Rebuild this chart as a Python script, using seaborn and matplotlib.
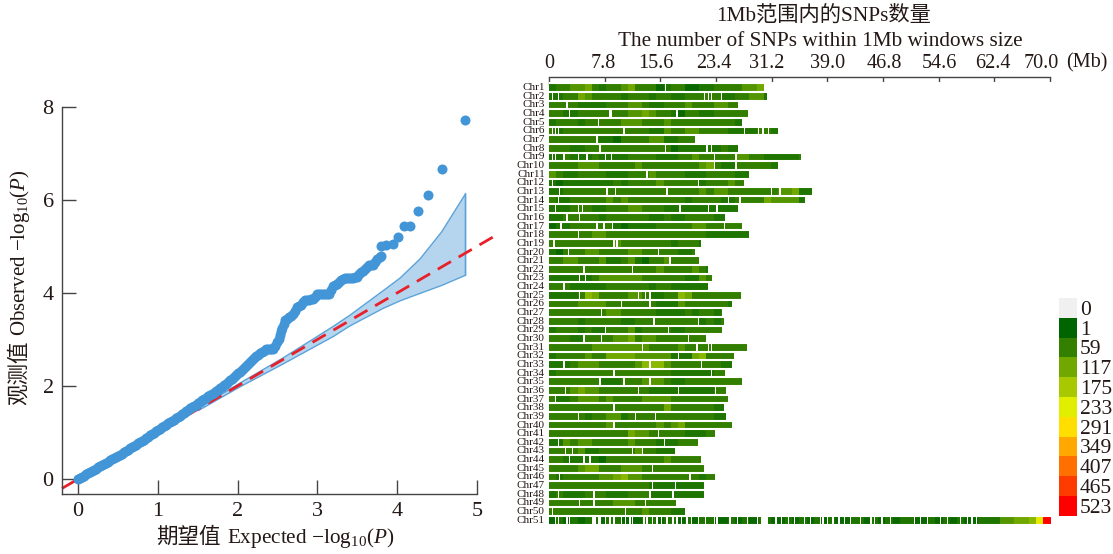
import numpy as np
import pandas as pd
import matplotlib
matplotlib.use("Agg")
import matplotlib.pyplot as plt
from matplotlib.colors import LinearSegmentedColormap, ListedColormap
from matplotlib.transforms import ScaledTranslation
import seaborn as sns

sns.set_style("white")
plt.rcParams['font.family'] = ['Liberation Serif', 'Noto Sans CJK SC']
plt.rcParams['mathtext.fontset'] = 'custom'
plt.rcParams['mathtext.rm'] = 'Liberation Serif'
plt.rcParams['mathtext.it'] = 'Liberation Serif:italic'
plt.rcParams['mathtext.default'] = 'rm'

# ---------- QQ data ----------
expected = [0, .025, .05, .075, .1, .125, .15, .175, .2, .225, .25, .275, .3, .325, .35, .375, .4, .425, .45, .475,
            .5, .525, .55, .575, .6, .625, .65, .675, .7, .725, .75, .775, .8, .825, .85, .875, .9, .925, .95, .975,
            1, 1.025, 1.05, 1.075, 1.1, 1.125, 1.15, 1.175, 1.2, 1.225, 1.25, 1.275, 1.3, 1.325, 1.35, 1.375,
            1.4, 1.425, 1.45, 1.475, 1.5, 1.525, 1.55, 1.575, 1.6, 1.625, 1.65, 1.675, 1.7, 1.725, 1.75, 1.775,
            1.8, 1.825, 1.85, 1.875, 1.9, 1.925, 1.95, 1.975, 2, 2.025, 2.05, 2.075, 2.1, 2.125, 2.15, 2.175,
            2.2, 2.225, 2.25, 2.275, 2.3, 2.325, 2.35, 2.375, 2.4, 2.425, 2.45, 2.475, 2.5, 2.515, 2.53, 2.545,
            2.56, 2.58, 2.6, 2.625, 2.65, 2.675, 2.7, 2.725, 2.75, 2.775, 2.8, 2.825, 2.85, 2.875, 2.9, 2.925,
            2.95, 2.975, 3, 3.025, 3.05, 3.075, 3.1, 3.125, 3.15, 3.175, 3.2, 3.225, 3.25, 3.275, 3.3, 3.325,
            3.35, 3.375, 3.4, 3.425, 3.45, 3.475, 3.5, 3.525, 3.55, 3.575, 3.6, 3.625, 3.65, 3.675, 3.7, 3.725,
            3.75, 3.78, 3.8, 3.8, 3.86, 3.95, 4.01, 4.08, 4.16, 4.26, 4.38, 4.56, 4.85]
observed = [0, .025, .05, .075, .1, .125, .15, .175, .2, .225, .25, .275, .3, .325, .35, .375, .4, .425, .45, .475,
            .5, .525, .55, .58, .6, .63, .66, .685, .71, .74, .77, .795, .82, .85, .88, .91, .94, .97, 1.0, 1.03,
            1.06, 1.085, 1.11, 1.14, 1.17, 1.195, 1.22, 1.25, 1.28, 1.305, 1.33, 1.36, 1.39, 1.425, 1.46, 1.49,
            1.52, 1.545, 1.57, 1.6, 1.63, 1.66, 1.69, 1.72, 1.75, 1.78, 1.81, 1.835, 1.86, 1.89, 1.92, 1.95,
            1.98, 2.015, 2.05, 2.085, 2.12, 2.155, 2.19, 2.23, 2.27, 2.31, 2.35, 2.39, 2.43, 2.475, 2.52, 2.56,
            2.6, 2.635, 2.67, 2.7, 2.73, 2.76, 2.79, 2.8, 2.8, 2.8, 2.8, 2.87, 2.95, 3.02, 3.1, 3.18,
            3.25, 3.34, 3.42, 3.45, 3.48, 3.51, 3.55, 3.62, 3.7, 3.72, 3.75, 3.8, 3.85, 3.85, 3.85, 3.86,
            3.87, 3.92, 3.97, 3.97, 3.97, 3.97, 3.97, 3.97, 3.98, 4.06, 4.15, 4.17, 4.2, 4.23, 4.27, 4.3,
            4.33, 4.33, 4.33, 4.33, 4.33, 4.34, 4.35, 4.4, 4.45, 4.48, 4.52, 4.56, 4.6, 4.6, 4.6, 4.66,
            4.72, 4.77, 4.8, 5.0, 5.02, 5.05, 5.21, 5.44, 5.44, 5.75, 6.11, 6.66, 7.71]
band_x = [1.5, 2.0, 2.57, 3.2, 3.4, 3.82, 4.03, 4.28, 4.55, 4.85]
band_upper = [1.53, 2.05, 2.62, 3.3, 3.53, 4.06, 4.33, 4.74, 5.32, 6.14]
band_lower = [1.48, 1.97, 2.49, 3.08, 3.3, 3.68, 3.84, 4.0, 4.17, 4.39]
ref_line = [-0.2, 5.22]

# ---------- density data: one digit per Mb, colour level ----------
chr_names = [f"Chr{i}" for i in range(1, 52)]
chr_ends_mb = [30.0, 30.4, 26.5, 27.8, 27.0, 32.1, 20.5, 26.4, 35.2, 32.1, 28.0, 27.2, 36.9, 35.9, 26.3,
               24.6, 27.0, 28.0, 21.2, 20.5, 21.0, 22.2, 22.8, 22.2, 26.7, 25.7, 24.2, 24.5, 24.2, 22.0,
               27.7, 25.9, 25.6, 24.6, 27.0, 24.8, 25.0, 24.5, 24.8, 25.5, 23.3, 20.8, 17.5, 21.2, 21.6,
               23.3, 21.5, 21.6, 17.9, 19.0, 70.2]
chr_levels = [
    "2334453233453331233112233334455", "2233543333233323322333332233442", "3333222233344322333433344332",
    "33223333333445433213322333333", "2333233333444333433333333322", "3233333333333322433443333222233222",
    "3333333221333344223333222", "3332233333333333312222223222", "2232223222233332223343333344332222233",
    "3333444333334333333334532233333222", "43223333222333433332223333222", "2122222223233334333332333433333",
    "22333333333333333333343443333333445222", "3223333343433333333233332233335444422", "222333223334433322222222222",
    "2233333233333322322333322", "1223333332122223333344333", "33333344333333333333332222222",
    "3333333334333333323332", "2133344333344333332233", "3344333422342133433333433",
    "33333333333333343333432222", "2222223444444333333224333", "3332222233333323322222222",
    "2222365333344322336533333333", "333344443333333222433333322", "3333333344333332222323323",
    "3333233333223333333332323", "2333232233342333322333333", "33322333344534433333332",
    "3333334444444433334333333333", "2333343355554444422256333333", "2223444333334666433333332222",
    "23333333333333333222222333", "3333333222333444322333333333", "3334544333333322222222233",
    "3223444343333444433333333", "3333333333333333533333322", "3333323344233333333333322",
    "33333333433333343453333333", "3333333333354433333222333", "2243443333343332223333",
    "333342233333433222333", "3322222133333333433333", "3333455333444333333333",
    "323333344564433333333233", "33333333333333222222222222", "2322233322233322222222222",
    "33333333344433333", "33333333333334333222",
    "121212212211122122121221121212211212121211221212122112121211" "2224455689",
]
chr_gaps = [
    [16.2], [0.5, 1.1, 21.7, 22.2, 22.7, 24.0], [2.5], [2.8, 8.4, 8.6, 17.8], [6.9],
    [0.4, 0.8, 1.3, 10.5, 27.3, 29.2, 29.9, 30.6], [6.6], [7.0, 16.2, 22.0, 22.6], [0.4, 0.9, 2.0, 3.9, 5.3, 7.8, 8.7, 23.0, 26.0],
    [23.0, 26.0], [13.6], [0.5, 20.8], [1.4, 8.0, 9.3, 16.4, 31.0, 32.2], [1.3, 25.0, 26.6],
    [0.8, 4.1, 4.6, 18.2, 22.2, 23.4], [2.5, 4.3], [1.6, 6.6, 7.5, 8.8, 24.3], [3.9], [0.6, 9.0, 9.4],
    [2.6, 15.3], [16.9], [4.8, 11.5], [4.2, 5.0], [2.1], [4.3, 12.5, 13.4, 14.1], [10.1, 13.9], [7.3],
    [14.6, 20.8], [7.8, 16.7], [4.8, 7.3, 19.4], [13.0, 20.6, 22.2, 22.7], [18.0], [2.0, 13.9, 21.3],
    [9.0, 22.7], [7.1, 10.4, 13.9], [2.2, 12.5, 18.0, 23.2], [0.8], [9.0], [4.1, 12.0, 14.8], [9.0],
    [15.3], [1.3, 16.0], [2.2, 3.3, 11.7, 13.0], [2.7, 4.8, 5.7], [14.4], [1.4, 19.7], [14.4, 17.7],
    [1.3, 6.2, 14.1, 17.3], [4.2, 6.3, 13.4], [0.4, 10.6],
    [.8, 1.2, 2.5, 2.8, 6.0, 6.2, 6.4, 6.7, 7.1, 7.8, 8.5, 9.0, 9.9, 10.6, 11.3, 11.6, 13.2, 13.6, 14.3,
     15.0, 15.7, 16.4, 17.1, 17.8, 18.5, 19.2, 19.9, 20.8, 21.8, 23.0, 23.4, 25.3, 26.2, 27.6, 29.0, 29.6,
     29.8, 30.0, 30.2, 30.4, 31.5, 32.5, 33.4, 34.3, 35.6, 36.5, 37.8, 38.2, 38.8, 39.7, 40.4, 41.1, 42.0,
     43.4, 44.8, 45.0, 45.4, 46.4, 47.7, 51.0, 51.8, 52.8, 54.6, 55.5, 57.4, 58.4, 59.0, 59.7],
]
level_counts = {1: 12, 2: 35, 3: 59, 4: 90, 5: 117, 6: 145, 7: 175, 8: 245, 9: 523}
ruler_labels = ["0", "7.8", "15.6", "23.4", "31.2", "39.0", "46.8", "54.6", "62.4", "70.0"]
ruler_label_shift_px = [0, -1, -4, -2, -5, 0, 1, 1, -1, -9]
legend_labels = ["0", "1", "59", "117", "175", "233", "291", "349", "407", "465", "523"]
legend_colors = ["#f0f0f0", "#006400", "#338000", "#70a800", "#a8c800", "#e2ee00",
                 "#ffde00", "#ffa800", "#ff7000", "#ff3c00", "#ff0000"]
legend_counts = [0, 1, 59, 117, 175, 233, 291, 349, 407, 465, 523]

# ---------- layout helpers ----------
W, H = 1113, 554
TXT = "#231815"
def box(l, t, r, b):
    return [l / W, 1 - b / H, (r - l) / W, (b - t) / H]

fig = plt.figure(figsize=(W / 100, H / 100), dpi=100, facecolor="white")

# ---------- QQ panel ----------
ax = fig.add_axes(box(62, 106.7, 477, 494))
ax.fill_between(band_x, band_lower, band_upper, facecolor="#b5d5ef", edgecolor="#5ba3d9", lw=1, zorder=1)
ax.plot([band_x[-1], band_x[-1]], [band_lower[-1], band_upper[-1]], color="#5ba3d9", lw=1, zorder=1)
ax.plot(ref_line, ref_line, color="#e8202a", lw=2, dashes=(5.5, 3.2), zorder=2, clip_on=False)
sns.scatterplot(x=expected, y=observed, ax=ax, s=52, color="#4295d6", linewidth=0, zorder=3, clip_on=False)
ax.set_xlim(-0.2, 5)
ax.set_ylim(-0.32, 8)
ax.set_xticks(range(6))
ax.set_yticks(range(0, 9, 2))
ax.tick_params(direction="in", length=10, width=1, color="#444444", labelsize=16, labelcolor=TXT, pad=6,
               left=True, bottom=True)
sns.despine(ax=ax)
for s in ("left", "bottom"):
    ax.spines[s].set_color("#444444")
    ax.spines[s].set_linewidth(1)
ax.set_xlabel(r"Expected $-\mathrm{log}_{10}(\mathit{P})$", fontsize=15.3, color=TXT)
ax.set_ylabel(r"Observed $-\mathrm{log}_{10}(\mathit{P})$", fontsize=15, color=TXT)
ax.xaxis.set_label_coords(311 / W, 1 - 538 / H, transform=fig.transFigure)
ax.yaxis.set_label_coords(20 / W, 1 - 253 / H, transform=fig.transFigure)
ax.xaxis.label.set_verticalalignment("center")
ax.yaxis.label.set_verticalalignment("center")
fig.text(188 / W, 1 - 538 / H, "期望值", ha="center", va="center", fontsize=15.5, color=TXT)
fig.text(20 / W, 1 - 373 / H, "观测值", ha="center", va="center", rotation=90, fontsize=15.5, color=TXT)

# ---------- density panel ----------
STEP = 0.2
n_cols = int(round(70.4 / STEP))
grid = np.full((len(chr_names), n_cols), np.nan)
for r, (levels, end, gaps) in enumerate(zip(chr_levels, chr_ends_mb, chr_gaps)):
    for c in range(min(int(round(end / STEP)), n_cols)):
        mb = int(c * STEP)
        grid[r, c] = level_counts[int(levels[min(mb, len(levels) - 1)])]
    for g in gaps:
        grid[r, int(round(g / STEP))] = np.nan

cmap = LinearSegmentedColormap.from_list(
    "snp", [(0.0, legend_colors[1])] + [(c / 523, col) for c, col in zip(legend_counts[2:], legend_colors[2:])])
cmap.set_bad("white")

axh = fig.add_axes(box(549, 77.3, 549 + 70.4 * 7.157, 524.5))
df = pd.DataFrame(grid, index=chr_names)
sns.heatmap(df, ax=axh, cmap=cmap, vmin=0, vmax=523, cbar=False, linewidths=0, rasterized=True,
            xticklabels=False, yticklabels=True)
axh.set_ylim(len(chr_names), -0.7)
axh.hlines(np.arange(0, len(chr_names) + 1), 0, n_cols, color="white", lw=1.5, zorder=5)
axh.xaxis.tick_top()
tick_pos = np.linspace(0, 70 / STEP, len(ruler_labels))
axh.set_xticks(tick_pos)
axh.set_xticklabels(ruler_labels, fontsize=14.5, color=TXT, rotation=0)
axh.tick_params(axis="x", direction="in", length=6, width=1, color="#444444", pad=3, top=True, bottom=False)
axh.tick_params(axis="y", length=0, pad=3, labelsize=8, labelcolor=TXT, labelrotation=0, left=False)
for lab, dx in zip(axh.get_xticklabels(), ruler_label_shift_px):
    lab.set_transform(lab.get_transform() + ScaledTranslation(dx / 100, 0, fig.dpi_scale_trans))
for s in axh.spines.values():
    s.set_visible(False)
axh.spines["top"].set_visible(True)
axh.spines["top"].set_bounds(0, 70 / STEP)
axh.spines["top"].set_color("#444444")
axh.spines["top"].set_linewidth(1)
fig.text(1066 / W, 1 - 63 / H, "(Mb)", ha="left", va="center", fontsize=14.5, color=TXT)
fig.text(823.5 / W, 1 - 16 / H, "1Mb范围内的SNPs数量", ha="center", va="center", fontsize=15.3, color=TXT)
fig.text(820.5 / W, 1 - 42 / H, "The number of SNPs within 1Mb windows size", ha="center", va="center",
         fontsize=15.3, color=TXT)

# ---------- legend ----------
axl = fig.add_axes(box(1059, 298, 1077, 515.7))
leg = pd.DataFrame({"c": range(len(legend_labels))}, index=legend_labels)
sns.heatmap(leg, ax=axl, cmap=ListedColormap(legend_colors), cbar=False, linewidths=0,
            xticklabels=False, yticklabels=True)
axl.yaxis.tick_right()
axl.tick_params(axis="y", length=0, pad=2, labelsize=15.5, labelcolor=TXT, labelrotation=0, right=False)

fig.savefig("out.png", dpi=100)
